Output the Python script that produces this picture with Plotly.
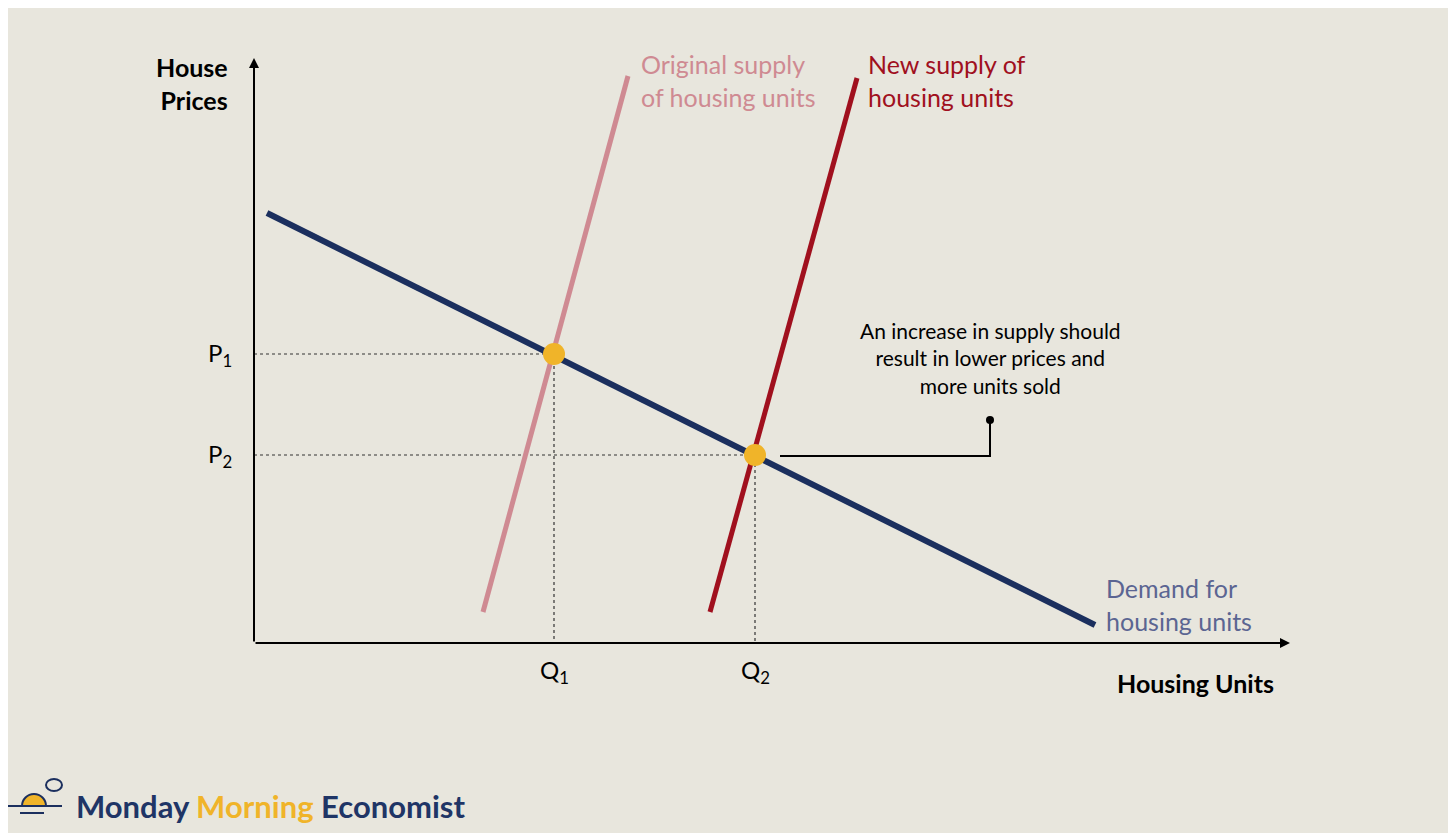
import plotly.graph_objects as go

BG = "#e8e6dd"
NAVY = "#1b2f5e"
PINK = "#cf8a92"
RED = "#a0101e"
GOLD = "#f0b429"

# data coordinates: origin at the axis corner, one unit per screen pixel
demand_x = [13, 841]
demand_y = [430, 18]
supply1_x = [229, 374]
supply1_y = [31, 567]
supply2_x = [456, 603]
supply2_y = [31, 565]
eq_x = [300, 501]
eq_y = [289, 188]
eq_labels_p = ["P<sub>1</sub>", "P<sub>2</sub>"]
eq_labels_q = ["Q<sub>1</sub>", "Q<sub>2</sub>"]
callout_x = [526, 736, 736]
callout_y = [187, 187, 223]

fig = go.Figure()
for px, py in zip(eq_x, eq_y):
    fig.add_trace(go.Scatter(x=[0, px, px], y=[py, py, 0], mode="lines",
                             line=dict(color="#333", width=1.2, dash="dot"), hoverinfo="skip"))
fig.add_trace(go.Scatter(x=supply1_x, y=supply1_y, mode="lines", line=dict(color=PINK, width=5)))
fig.add_trace(go.Scatter(x=supply2_x, y=supply2_y, mode="lines", line=dict(color=RED, width=5)))
fig.add_trace(go.Scatter(x=demand_x, y=demand_y, mode="lines", line=dict(color=NAVY, width=6)))
fig.add_trace(go.Scatter(x=callout_x, y=callout_y, mode="lines", line=dict(color="black", width=2)))
fig.add_trace(go.Scatter(x=[callout_x[-1]], y=[callout_y[-1]], mode="markers",
                         marker=dict(color="black", size=8)))
fig.add_trace(go.Scatter(x=eq_x, y=eq_y, mode="markers", marker=dict(color=GOLD, size=22)))

F = "Lato"
ann = []
# axes arrows
ann.append(dict(x=1036, y=0, ax=0, ay=0, xref="x", yref="y", axref="x", ayref="y",
                showarrow=True, arrowhead=2, arrowsize=1, arrowwidth=2, arrowcolor="black", text=""))
ann.append(dict(x=0, y=585, ax=0, ay=0, xref="x", yref="y", axref="x", ayref="y",
                showarrow=True, arrowhead=2, arrowsize=1, arrowwidth=2, arrowcolor="black", text=""))
for lab, py in zip(eq_labels_p, eq_y):
    ann.append(dict(x=-20, y=py, text=lab, showarrow=False, xanchor="right", font=dict(size=24, color="black", family=F)))
for lab, px in zip(eq_labels_q, eq_x):
    ann.append(dict(x=px, y=-28, text=lab, showarrow=False, font=dict(size=24, color="black", family=F)))
ann += [
    dict(x=-24, y=560, text="<b>House<br>Prices</b>", showarrow=False, xanchor="right", align="right",
         font=dict(size=25, color="black", family=F)),
    dict(x=1022, y=-40, text="<b>Housing Units</b>", showarrow=False, xanchor="right",
         font=dict(size=25, color="black", family=F)),
    dict(x=385, y=563, text="Original supply<br>of housing units", showarrow=False, xanchor="left", align="left",
         font=dict(size=25, color=PINK, family=F)),
    dict(x=612, y=563, text="New supply of<br>housing units", showarrow=False, xanchor="left", align="left",
         font=dict(size=25, color=RED, family=F)),
    dict(x=850, y=39, text="Demand for<br>housing units", showarrow=False, xanchor="left", align="left",
         font=dict(size=25, color="#5b6592", family=F)),
    dict(x=736, y=285, text="An increase in supply should<br>result in lower prices and<br>more units sold",
         showarrow=False, align="center", font=dict(size=21, color="black", family=F)),
    dict(x=-180, y=-163, text="<b><span style='color:#1f3566'>Monday </span><span style='color:#f0b429'>Morning</span>"
                              "<span style='color:#1f3566'> Economist</span></b>",
         showarrow=False, xanchor="left", font=dict(size=31, family=F)),
]

shapes = [
    dict(type="circle", xref="x", yref="y", x0=-232, x1=-208, y0=-175, y1=-151, fillcolor=GOLD, line=dict(color=NAVY, width=2)),
    dict(type="rect", xref="x", yref="y", x0=-236, x1=-204, y0=-176, y1=-163, fillcolor=BG, line=dict(width=0)),
    dict(type="line", xref="x", yref="y", x0=-246, x1=-192, y0=-163, y1=-163, line=dict(color=NAVY, width=2)),
    dict(type="line", xref="x", yref="y", x0=-234, x1=-210, y0=-170, y1=-170, line=dict(color=NAVY, width=2)),
    dict(type="circle", xref="x", yref="y", x0=-208, x1=-192, y0=-148, y1=-136, fillcolor=BG, line=dict(color=NAVY, width=2)),
]

fig.update_layout(
    width=1456, height=833, margin=dict(l=0, r=0, t=0, b=0),
    paper_bgcolor=BG, plot_bgcolor=BG, showlegend=False,
    xaxis=dict(range=[-246, 1210], visible=False, fixedrange=True),
    yaxis=dict(range=[-198, 635], visible=False, fixedrange=True),
    annotations=ann, shapes=shapes,
)
fig.write_html("out.html", config={"displayModeBar": False})
